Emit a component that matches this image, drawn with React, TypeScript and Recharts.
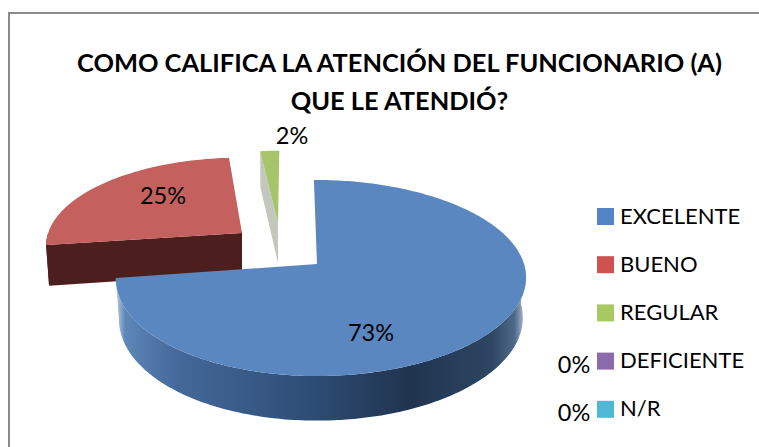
import { Pie, PieChart } from 'recharts';

// drawn back to front, so the biggest slice ends up on top of the exploded ones
const categories = ['N/R', 'DEFICIENTE', 'REGULAR', 'BUENO', 'EXCELENTE'];
const values = [0, 0, 2, 25, 73];
const legendOrder = ['EXCELENTE', 'BUENO', 'REGULAR', 'DEFICIENTE', 'N/R'];
const legendColors = ['#5584c4', '#cd5250', '#a7c95f', '#8a6aab', '#4fb8d4'];
const titleLines = ['COMO CALIFICA LA ATENCIÓN DEL FUNCIONARIO (A)', 'QUE LE ATENDIÓ?'];

const FONT = 'Lato, sans-serif';
const TILT = 0.473;
const PERSPECTIVE = 0.143;
const DEPTH = 40;

// how each slice sits in the fake 3D view: explosion offset, radius scale, angle nudges
const SLICE_STYLE: Record<string, any> = {
  EXCELENTE: { dx: 0, dy: 0, scale: 1, nudgeStart: 0, nudgeEnd: 0, tilt: 1, bulge: 4, top: '#5a87c0', side: 'url(#blueSide)' },
  BUENO: { dx: -75, dy: -31, scale: 0.955, nudgeStart: 0.3, nudgeEnd: 3.8, tilt: 0.94, bulge: 0, top: '#c4615e', side: '#4c1e1d' },
  REGULAR: { dx: -39, dy: -41, scale: 0.86, nudgeStart: 1.5, nudgeEnd: 1.5, tilt: 1, bulge: 0, top: '#a6c46a', side: '#c3c7bc' },
};

const chartData = categories.map((name, i) => ({ name, value: values[i] }));

// theta is clockwise from 12 o'clock, rn is radius as a share of the full radius
function project(cx: number, cy: number, radius: number, theta: number, rn: number, lift: number, style: any) {
  const a = (theta * Math.PI) / 180;
  const s = Math.sin(a);
  const f = 1 / (1 + PERSPECTIVE * rn * Math.cos(a));
  return {
    x: cx + radius * rn * s * f + style.bulge * rn * s * s,
    y: cy - TILT * style.tilt * radius * rn * Math.cos(a) * f + lift * f,
  };
}

function toPath(points: { x: number; y: number }[]) {
  return points.map((p, i) => `${i ? 'L' : 'M'}${p.x.toFixed(1)} ${p.y.toFixed(1)}`).join(' ') + ' Z';
}

function sweep(from: number, to: number) {
  const out: number[] = [];
  const steps = Math.max(2, Math.ceil(Math.abs(to - from)));
  for (let i = 0; i <= steps; i++) out.push(from + ((to - from) * i) / steps);
  return out;
}

function Slice3D(props: any) {
  const { cx, cy, outerRadius, startAngle, endAngle, name } = props;
  const style = SLICE_STYLE[name];
  if (!style || startAngle === endAngle) return null;

  // recharts angles are counterclockwise from 3 o'clock
  let t1 = 90 - Math.max(startAngle, endAngle);
  let t2 = 90 - Math.min(startAngle, endAngle);
  if (t2 < 0) {
    t1 += 360;
    t2 += 360;
  }
  t1 += style.nudgeStart;
  t2 += style.nudgeEnd;
  const ox = cx + style.dx;
  const oy = cy + style.dy;
  const R = outerRadius * style.scale;
  const apex = { x: ox, y: oy };

  const top = [apex, ...sweep(t1, t2).map((t) => project(ox, oy, R, t, 1, 0, style))];

  const low = Math.max(t1, 90);
  const high = Math.min(t2, 270);
  const rim =
    high > low
      ? [
          ...sweep(low, high).map((t) => project(ox, oy, R, t, 1, 0, style)),
          ...sweep(high, low).map((t) => project(ox, oy, R, t, 0.985, DEPTH, style)),
        ]
      : null;

  const showCut = t1 > 180;
  const cut = showCut
    ? [apex, project(ox, oy, R, t1, 1, 0, style), project(ox, oy, R, t1, 0.985, DEPTH, style), { x: ox, y: oy + DEPTH }]
    : null;

  return (
    <g>
      {rim && <path d={toPath(rim)} fill={style.side} />}
      {cut && <path d={toPath(cut)} fill={style.side} />}
      <path d={toPath(top)} fill={style.top} />
    </g>
  );
}

const LABEL_POS: Record<string, [number, number]> = {
  EXCELENTE: [371, 332],
  BUENO: [163, 195],
  REGULAR: [292, 135],
  DEFICIENTE: [574, 364],
  'N/R': [574, 412],
};

function PctLabel(props: any) {
  const pos = LABEL_POS[props.name];
  if (!pos) return null;
  return (
    <text x={pos[0]} y={pos[1]} textAnchor="middle" dominantBaseline="central" fontFamily={FONT} fontSize={23.5} fill="#000">
      {`${props.value}%`}
    </text>
  );
}

export default function App() {
  return (
    <div style={{ position: 'absolute', left: 0, top: 0, width: 759, height: 447, overflow: 'hidden', background: '#fff' }}>
      <div
        style={{
          position: 'absolute',
          left: 8,
          top: 12,
          width: 800,
          height: 500,
          border: '2px solid #8c8c8c',
          boxSizing: 'border-box',
        }}
      />
      <PieChart width={759} height={447} margin={{ top: 0, right: 0, bottom: 0, left: 0 }} style={{ position: 'absolute', left: 0, top: 0 }}>
        <defs>
          <linearGradient id="blueSide" gradientUnits="userSpaceOnUse" x1="115" y1="0" x2="525" y2="0">
            <stop offset="0" stopColor="#c5d3e6" />
            <stop offset="0.025" stopColor="#5e86b8" />
            <stop offset="0.15" stopColor="#44699a" />
            <stop offset="0.45" stopColor="#2f4f78" />
            <stop offset="0.72" stopColor="#20344f" />
            <stop offset="0.92" stopColor="#2e4663" />
            <stop offset="0.975" stopColor="#4f6a8a" />
            <stop offset="1" stopColor="#b5c2d2" />
          </linearGradient>
        </defs>
        {titleLines.map((line, i) => (
          <text key={line} x={399.5} y={62 + i * 38} textAnchor="middle" dominantBaseline="central" fontFamily={FONT} fontWeight={700} fontSize={25.4} fill="#000">
            {line}
          </text>
        ))}
        <Pie
          data={chartData}
          dataKey="value"
          nameKey="name"
          cx={317}
          cy={264}
          outerRadius={203}
          startAngle={91}
          endAngle={451}
          stroke="none"
          shape={Slice3D}
          label={PctLabel}
          labelLine={false}
          isAnimationActive={false}
        />
        {legendOrder.map((name, i) => (
          <g key={name}>
            <rect x={597} y={208 + i * 48.2} width={17} height={17} fill={legendColors[i]} />
            <text x={620} y={215 + i * 48.2} dominantBaseline="central" fontFamily={FONT} fontSize={22} fill="#000">
              {name}
            </text>
          </g>
        ))}
      </PieChart>
    </div>
  );
}
